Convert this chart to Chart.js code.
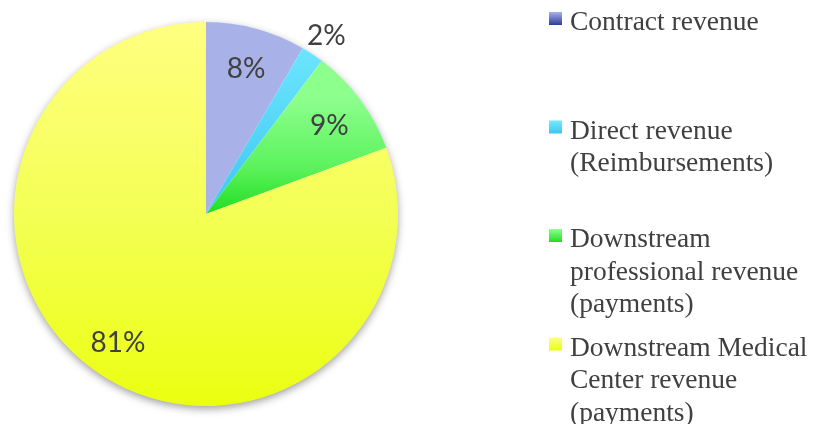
<!DOCTYPE html>
<html>
<head>
<meta charset="utf-8">
<script src="https://cdn.jsdelivr.net/npm/chart.js@4.4.0/dist/chart.umd.min.js"></script>
<style>
  html, body { margin: 0; padding: 0; background: #ffffff; overflow: hidden; }
  #wrap { position: relative; width: 813px; height: 424px; }
</style>
</head>
<body>
<div id="wrap"><canvas id="Chart" width="813" height="424"></canvas></div>
<script>
// values; shown rounded
const categories = [
    ['Contract revenue'],
    ['Direct revenue', '(Reimbursements)'],
    ['Downstream', 'professional revenue', '(payments)'],
    ['Downstream Medical', 'Center revenue', '(payments)']
];
const shares = [8.4, 1.9, 9.1, 80.6];

// gradient stops per slice, top to bottom of the pie
const sliceStops = [
    [[0, '#a8b2e8'], [0.3, '#8d98d8'], [0.5, '#2a3e9a']],
    [[0, '#74eaff'], [0.5, '#3cc6f4']],
    [[0.2, '#8cff8c'], [0.38, '#5cf25c'], [0.5, '#22dd22']],
    [[0, '#ffff80'], [0.5, '#f4ff55'], [1, '#eaff10']]
];

const textColor = '#404040';

function pieGradient(ctx, top, bottom, stops) {
    let g = ctx.createLinearGradient(0, top, 0, bottom);
    stops.forEach(s => g.addColorStop(s[0], s[1]));
    return g;
}

const pieShadow = {
    id: 'pieShadow',
    beforeDatasetsDraw(chart) {
        let arc = chart.getDatasetMeta(0).data[0];
        if (!arc) return;
        let c = chart.ctx;
        c.save();
        c.shadowColor = 'rgba(0,0,0,0.4)';
        c.shadowBlur = 8;
        c.shadowOffsetY = 3;
        c.fillStyle = '#ffffff';
        c.beginPath();
        c.arc(arc.x, arc.y, arc.outerRadius - 0.5, 0, Math.PI * 2);
        c.fill();
        c.restore();
    }
};

const pieLabels = {
    id: 'pieLabels',
    afterDatasetsDraw(chart) {
        let c = chart.ctx;
        let total = shares.reduce((a, b) => a + b, 0);
        c.save();
        c.font = '28px Lato';
        c.fillStyle = textColor;
        c.textAlign = 'center';
        c.textBaseline = 'middle';
        chart.getDatasetMeta(0).data.forEach((arc, i) => {
            let mid = (arc.startAngle + arc.endAngle) / 2;
            let pct = shares[i] / total * 100;
            let f = pct < 4 ? 1.13 : 0.8;
            let r = arc.outerRadius * f;
            c.fillText(Math.round(pct) + '%', arc.x + Math.cos(mid) * r, arc.y + Math.sin(mid) * r + 3);
        });
        c.restore();
    }
};

const sideLegend = {
    id: 'sideLegend',
    afterDraw(chart) {
        let c = chart.ctx;
        let x0 = 549, box = 13, textX = 570, lineH = 32.5, slot = 108.5, firstBase = 30;
        c.save();
        c.font = '27.5px "Liberation Serif"';
        c.textBaseline = 'alphabetic';
        c.textAlign = 'left';
        categories.forEach((lines, i) => {
            let base = firstBase + i * slot;
            let top = base - 18;
            let st = sliceStops[i];
            c.fillStyle = pieGradient(c, top, top + box, [[0, st[0][1]], [1, st[st.length - 1][1]]]);
            c.fillRect(x0, top, box, box);
            c.fillStyle = textColor;
            lines.forEach((t, j) => c.fillText(t, textX, base + j * lineH));
        });
        c.restore();
    }
};

const ctx = document.getElementById('Chart').getContext('2d');
const revenueChart = new Chart(ctx, {
    type: 'pie',
    data: {
        labels: categories,
        datasets: [{
            data: shares,
            backgroundColor: function (context) {
                let chart = context.chart;
                let arc = chart.getDatasetMeta(0).data[0];
                if (!arc || !arc.outerRadius) return sliceStops[context.dataIndex][0][1];
                return pieGradient(chart.ctx, arc.y - arc.outerRadius, arc.y + arc.outerRadius, sliceStops[context.dataIndex]);
            },
            borderWidth: 0,
            hoverOffset: 0
        }]
    },
    options: {
        responsive: false,
        animation: false,
        layout: {
            padding: { left: 14, right: 415, top: 22, bottom: 18 }
        },
        plugins: {
            legend: { display: false },
            tooltip: { enabled: false }
        }
    },
    plugins: [pieShadow, pieLabels, sideLegend]
});
</script>
</body>
</html>
